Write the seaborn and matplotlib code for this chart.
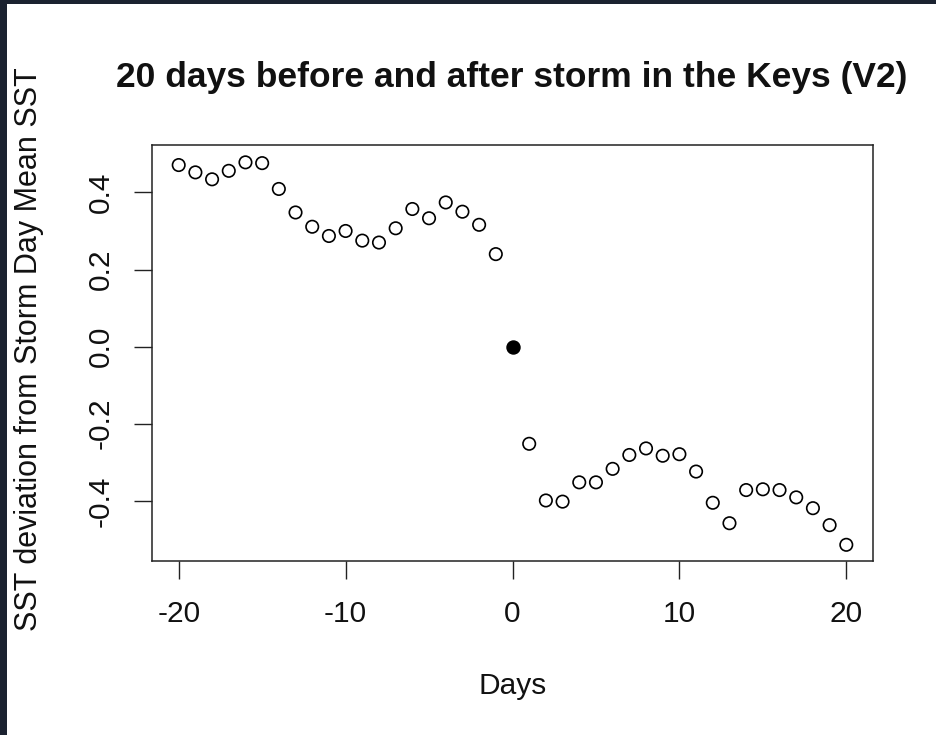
import matplotlib
matplotlib.use("Agg")
import matplotlib.pyplot as plt
import seaborn as sns
import pandas as pd
from matplotlib.patches import Rectangle

days = list(range(-20, 21))
sst_dev = [0.471, 0.452, 0.434, 0.456, 0.478, 0.476, 0.409, 0.348, 0.311, 0.287,
           0.300, 0.275, 0.270, 0.307, 0.357, 0.333, 0.374, 0.350, 0.316, 0.240,
           0.000,
           -0.252, -0.399, -0.402, -0.352, -0.352, -0.317, -0.281, -0.264, -0.283, -0.279,
           -0.324, -0.405, -0.458, -0.372, -0.370, -0.372, -0.391, -0.419, -0.463, -0.514]
x_ticks = [-20, -10, 0, 10, 20]
y_ticks = [-0.4, -0.2, 0.0, 0.2, 0.4]
y_tick_labels = ["-0.4", "-0.2", "0.0", "0.2", "0.4"]
title = "20 days before and after storm in the Keys (V2)"
xlabel = "Days"
ylabel = "SST deviation from Storm Day Mean SST"

df = pd.DataFrame({"day": days, "dev": sst_dev})
other = df[df["day"] != 0]
storm = df[df["day"] == 0]

sns.set_style("white")
plt.rcParams["font.family"] = ["Liberation Sans", "DejaVu Sans"]

W, H = 936, 735
fig = plt.figure(figsize=(W / 100, H / 100), dpi=100)
fig.patch.set_facecolor("white")
ax = fig.add_axes([152 / W, 1 - 561 / H, (873 - 152) / W, (561 - 145) / H])

sns.scatterplot(data=other, x="day", y="dev", ax=ax, marker="o", s=80,
                facecolor="none", edgecolor="black", linewidth=1.2, legend=False)
ax.collections[0].set_facecolor("none")
ax.collections[0].set_edgecolor("black")
sns.scatterplot(data=storm, x="day", y="dev", ax=ax, marker="o", s=88,
                color="black", edgecolor="black", linewidth=1.0, legend=False)

ax.set_xlim(-21.6, 21.6)
ax.set_ylim(-0.556, 0.523)
ax.set_xticks(x_ticks)
ax.set_xticklabels([str(t) for t in x_ticks])
ax.set_yticks(y_ticks)
ax.set_yticklabels(y_tick_labels, rotation=90, va="center")

for s in ax.spines.values():
    s.set_visible(True)
    s.set_color("#222222")
    s.set_linewidth(1.1)

ax.tick_params(axis="both", which="major", direction="out", length=13,
               width=1.0, color="#222222", labelsize=21.5, labelcolor="#111111",
               bottom=True, left=True)
ax.tick_params(axis="x", pad=15)
ax.tick_params(axis="y", pad=14)

ax.set_xlabel(xlabel, fontsize=21.5, color="#111111", va="center")
ax.xaxis.set_label_coords(0.5, -(686 - 561) / 416)
ax.set_ylabel(ylabel, fontsize=22, color="#111111", va="center")
ax.yaxis.set_label_coords((29 - 152) / 721, 0.51)

fig.text(512 / W, 1 - 78 / H, title, ha="center", va="center",
         fontsize=25.5, fontweight="bold", color="#111111")

# dark screenshot border (left and top)
fig.patches.append(Rectangle((0, 0), 7 / W, 1, transform=fig.transFigure,
                             facecolor="#1b2230", edgecolor="none", zorder=10))
fig.patches.append(Rectangle((0, 1 - 3.6 / H), 1, 3.6 / H, transform=fig.transFigure,
                             facecolor="#1b2230", edgecolor="none", zorder=10))

fig.savefig("out.png", dpi=100, facecolor="white")
